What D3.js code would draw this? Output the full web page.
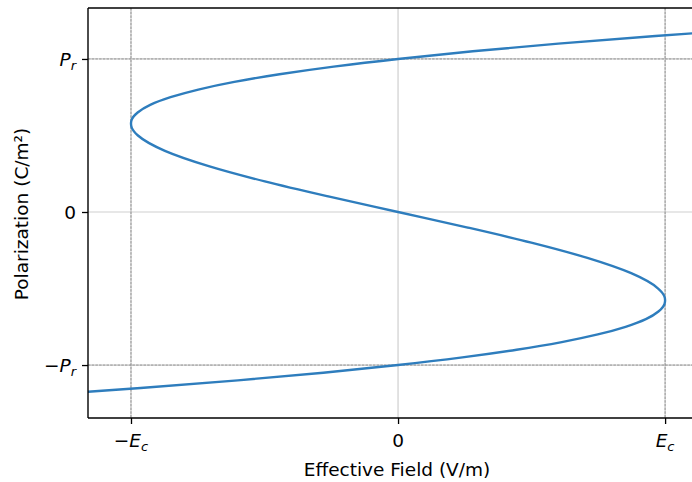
<!DOCTYPE html>
<html><head><meta charset="utf-8">
<script src="https://cdn.jsdelivr.net/npm/d3@7"></script>
<style>body{margin:0;background:#fff;} svg{display:block;font-family:"DejaVu Sans",sans-serif;}</style>
</head><body><svg id="c" width="692" height="482"></svg>
<script>
// Polarization (in units of Pr) and effective field (in units of Ec)
const polarization = [-1.25,-1.18,-1.15,-1.1,-1.05,-1.0,-0.95,-0.9,-0.85,-0.8,-0.75,-0.7,-0.65,-0.6,-0.577,-0.55,-0.5,-0.4,-0.3,-0.2,-0.1,0,
  0.1,0.2,0.3,0.4,0.5,0.55,0.577,0.6,0.65,0.7,0.75,0.8,0.85,0.9,0.95,1.0,1.05,1.1,1.15,1.18,1.25];
const field = [-1.827,-1.203,-0.964,-0.600,-0.280,0,0.241,0.444,0.613,0.748,0.852,0.928,0.975,0.998,1.0,0.997,0.974,0.873,0.709,0.499,0.257,0,
  -0.257,-0.499,-0.709,-0.873,-0.974,-0.997,-1.0,-0.998,-0.975,-0.928,-0.852,-0.748,-0.613,-0.444,-0.241,0,0.280,0.600,0.964,1.203,1.827];
const xTicks = [-1,0,1];
const xTickLabels = [["−E","c"],["0",""],["E","c"]];
const yTicks = [-1,0,1];
const yTickLabels = [["−P","r"],["0",""],["P","r"]];
const xDomain = [-1.161,1.097];
const yDomain = [-1.346,1.333];

const svg = d3.select("#c");
const L=88,R=691,T=8,B=418;
const x = d3.scaleLinear().domain(xDomain).range([L,R]);
const y = d3.scaleLinear().domain(yDomain).range([B,T]);

svg.append("defs").append("clipPath").attr("id","clip").append("rect")
  .attr("x",L).attr("y",T).attr("width",R-L+2).attr("height",B-T);

const g = svg.append("g").attr("clip-path","url(#clip)");
xTicks.forEach(v=>g.append("line").attr("x1",x(v)).attr("x2",x(v)).attr("y1",T).attr("y2",B)
  .attr("stroke","#cfcfcf").attr("stroke-width",1.2));
yTicks.forEach(v=>g.append("line").attr("y1",y(v)).attr("y2",y(v)).attr("x1",L).attr("x2",692)
  .attr("stroke","#cfcfcf").attr("stroke-width",1.2));
[-1,1].forEach(v=>g.append("line").attr("x1",x(v)).attr("x2",x(v)).attr("y1",T).attr("y2",B)
  .attr("stroke","#8a8a8a").attr("stroke-width",0.9).attr("stroke-dasharray","2.5,1.2"));
[-1,1].forEach(v=>g.append("line").attr("y1",y(v)).attr("y2",y(v)).attr("x1",L).attr("x2",692)
  .attr("stroke","#8a8a8a").attr("stroke-width",0.9).attr("stroke-dasharray","2.5,1.2"));

const pts = polarization.map((p,i)=>[field[i],p]);
g.append("path").datum(pts)
  .attr("d",d3.line().x(d=>x(d[0])).y(d=>y(d[1])).curve(d3.curveMonotoneY))
  .attr("fill","none").attr("stroke","#2e7dbd").attr("stroke-width",2.4);

const xa = svg.append("g").attr("transform",`translate(0,${B})`)
  .call(d3.axisBottom(x).tickValues(xTicks).tickSize(6).tickFormat(""));
const ya = svg.append("g").attr("transform",`translate(${L},0)`)
  .call(d3.axisLeft(y).tickValues(yTicks).tickSize(6).tickFormat(""));
[xa,ya].forEach(a=>{a.select(".domain").remove();a.selectAll("line").attr("stroke","#000").attr("stroke-width",1.3);});
svg.append("line").attr("x1",L).attr("x2",L).attr("y1",T).attr("y2",B).attr("stroke","#000").attr("stroke-width",1.4);
svg.append("line").attr("x1",L).attr("x2",692).attr("y1",B).attr("y2",B).attr("stroke","#000").attr("stroke-width",1.4);
svg.append("line").attr("x1",L).attr("x2",692).attr("y1",T).attr("y2",T).attr("stroke","#000").attr("stroke-width",1.4);

function mathLabel(sel, parts){
  if(parts[1]===""){ sel.append("tspan").text(parts[0]); return; }
  const s = parts[0];
  if(s.startsWith("−")){ sel.append("tspan").text("−"); sel.append("tspan").attr("font-style","italic").text(s.slice(1)); }
  else sel.append("tspan").attr("font-style","italic").text(s);
  sel.append("tspan").attr("font-style","italic").attr("font-size","13px").attr("dy",4).text(parts[1]);
}
xTicks.forEach((v,i)=>{
  const t = svg.append("text").attr("x",x(v)).attr("y",447).attr("text-anchor","middle").attr("font-size","18.5px").attr("fill","#000");
  mathLabel(t,xTickLabels[i]);
});
yTicks.forEach((v,i)=>{
  const t = svg.append("text").attr("x",76).attr("y",y(v)+7).attr("text-anchor","end").attr("font-size","18.5px").attr("fill","#000");
  mathLabel(t,yTickLabels[i]);
});
svg.append("text").attr("x",397).attr("y",476).attr("text-anchor","middle").attr("font-size","18.5px").text("Effective Field (V/m)");
svg.append("text").attr("transform",`translate(28,${214}) rotate(-90)`).attr("text-anchor","middle").attr("font-size","18.5px").text("Polarization (C/m²)");
</script></body></html>
